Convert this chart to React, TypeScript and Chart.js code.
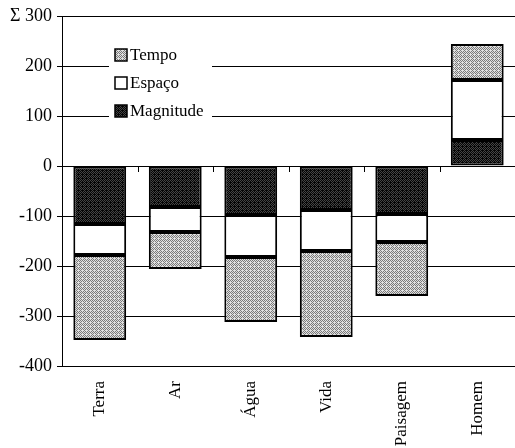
import React, { useEffect, useRef } from "react";
import { Chart, registerables } from "chart.js";

Chart.register(...registerables);

const categories = ["Terra", "Ar", "Água", "Vida", "Paisagem", "Homem"];
const magnitude = [-116, -82, -98, -88, -96, 52];
const espaco = [-62, -50, -84, -82, -56, 120];
const tempo = [-170, -74, -130, -172, -108, 72];
const yTicks = [-400, -300, -200, -100, 0, 100, 200, 300];

function makePattern(a: string, b: string): CanvasPattern | string {
  const c = document.createElement("canvas");
  c.width = 4;
  c.height = 4;
  const ctx = c.getContext("2d");
  if (!ctx) return a;
  const map = [
    [0, 1, 0, 1],
    [1, 0, 1, 0],
    [0, 1, 1, 1],
    [1, 0, 1, 0],
  ];
  for (let y = 0; y < 4; y++) {
    for (let x = 0; x < 4; x++) {
      ctx.fillStyle = map[y][x] ? a : b;
      ctx.fillRect(x, y, 1, 1);
    }
  }
  const p = ctx.createPattern(c, "repeat");
  return p || a;
}

const FONT = "'Liberation Serif', 'DejaVu Serif', serif";

export default function App() {
  const ref = useRef<HTMLCanvasElement | null>(null);

  useEffect(() => {
    if (!ref.current) return;
    const tempoFill = makePattern("#e0e0e0", "#7a7a7a");
    const magFill = makePattern("#050505", "#444444");

    const legendPlugin = {
      id: "insideLegend",
      afterDraw(chart: any) {
        const ctx = chart.ctx;
        const area = chart.chartArea;
        const left = area.left + 47;
        const top = area.top + 22;
        ctx.save();
        ctx.fillStyle = "#ffffff";
        ctx.fillRect(left, top, 103, 88);
        const items = [...chart.data.datasets].reverse();
        ctx.font = "17px " + FONT;
        ctx.textBaseline = "middle";
        items.forEach((ds: any, i: number) => {
          const cy = top + 17 + i * 28;
          const bx = left + 6;
          ctx.fillStyle = ds.backgroundColor;
          ctx.fillRect(bx, cy - 6, 12, 12);
          ctx.strokeStyle = "#000";
          ctx.lineWidth = 1.5;
          ctx.strokeRect(bx, cy - 6, 12, 12);
          ctx.fillStyle = "#000";
          ctx.fillText(ds.label, bx + 15, cy + 1);
        });
        ctx.restore();
      },
    };

    const zeroTicks = {
      id: "zeroTicks",
      afterDatasetsDraw(chart: any) {
        const ctx = chart.ctx;
        const xs = chart.scales.x;
        const ys = chart.scales.y;
        const y0 = ys.getPixelForValue(0);
        ctx.save();
        ctx.strokeStyle = "#000";
        ctx.lineWidth = 1;
        for (let i = 0; i < categories.length - 1; i++) {
          const x = Math.round((xs.getPixelForValue(i) + xs.getPixelForValue(i + 1)) / 2) + 0.5;
          ctx.beginPath();
          ctx.moveTo(x, y0);
          ctx.lineTo(x, y0 + 6);
          ctx.stroke();
        }
        ctx.restore();
      },
    };

    const chart = new Chart(ref.current, {
      type: "bar",
      data: {
        labels: categories,
        datasets: [
          {
            label: "Magnitude",
            data: magnitude,
            backgroundColor: magFill as any,
            borderColor: "#000",
            borderWidth: 2,
            borderSkipped: false,
          },
          {
            label: "Espaço",
            data: espaco,
            backgroundColor: "#ffffff",
            borderColor: "#000",
            borderWidth: 2,
            borderSkipped: false,
          },
          {
            label: "Tempo",
            data: tempo,
            backgroundColor: tempoFill as any,
            borderColor: "#000",
            borderWidth: 2,
            borderSkipped: false,
          },
        ],
      },
      options: {
        responsive: false,
        animation: false,
        layout: { padding: { top: 16, right: 0, left: 0, bottom: 0 } },
        plugins: {
          legend: { display: false },
          tooltip: { enabled: false },
          title: { display: false },
        },
        datasets: {
          bar: { barPercentage: 0.7, categoryPercentage: 1 },
        },
        scales: {
          x: {
            stacked: true,
            grid: { display: false },
            border: { display: true, color: "#000", width: 1 },
            ticks: {
              color: "#000",
              font: { family: FONT, size: 17 },
              minRotation: 90,
              maxRotation: 90,
              padding: 7,
            },
            afterFit(scale: any) {
              scale.height = 82;
            },
          },
          y: {
            stacked: true,
            min: -400,
            max: 300,
            afterBuildTicks(scale: any) {
              scale.ticks = yTicks.map((v) => ({ value: v }));
            },
            grid: {
              color: "#000",
              lineWidth: 1,
              drawTicks: true,
              tickLength: 5,
            },
            border: { display: true, color: "#000", width: 1 },
            ticks: {
              color: "#000",
              font: { family: FONT, size: 18 },
              padding: 5,
              callback: (v: any) => (v === 300 ? "Σ 300" : String(v)),
            },
            afterFit(scale: any) {
              scale.width = 62;
            },
          },
        },
      },
      plugins: [legendPlugin, zeroTicks],
    });
    return () => chart.destroy();
  }, []);

  return (
    <canvas
      ref={ref}
      width={515}
      height={448}
      style={{ position: "absolute", left: 0, top: 0, width: 515, height: 448 }}
    />
  );
}
